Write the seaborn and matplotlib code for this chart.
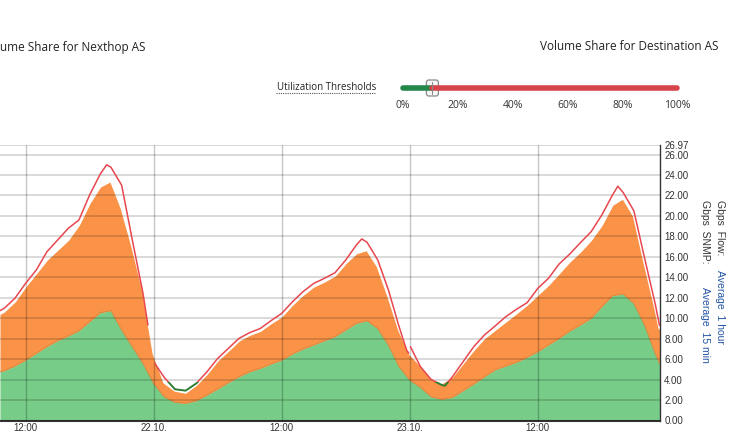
import numpy as np
import pandas as pd
import matplotlib
matplotlib.use("Agg")
import matplotlib.pyplot as plt
from matplotlib.patches import Rectangle, FancyBboxPatch
from matplotlib.lines import Line2D
from matplotlib.transforms import IdentityTransform
import seaborn as sns

# hours counted from 21.10. 00:00
area_hours = [9.6] + list(range(10, 72)) + [71.4]

# Flow, 1 hour average: lower (green) share and stacked total (orange top)
flow_green = [4.77, 4.87, 5.33, 5.91, 6.57, 7.22, 7.80, 8.26, 8.78, 9.66,
              10.54, 10.74, 8.85, 7.22, 5.59, 3.63, 2.30, 1.78, 1.68, 1.94,
              2.49, 3.08, 3.70, 4.28, 4.77, 5.10, 5.52, 5.91, 6.50, 6.99,
              7.38, 7.80, 8.20, 8.85, 9.50, 9.76, 9.00, 7.38, 5.26, 3.96,
              3.24, 2.33, 2.07, 2.26, 2.92, 3.57, 4.28, 4.95, 5.33, 5.69,
              6.18, 6.73, 7.38, 8.03, 8.75, 9.34, 9.99, 11.13, 12.20, 12.37,
              11.46, 9.34, 6.57, 5.60]
flow_total = [10.42, 10.64, 11.62, 13.08, 14.38, 15.69, 16.67, 17.64, 19.10, 21.23,
              22.86, 23.41, 20.74, 17.00, 12.76, 6.50, 3.70, 2.92, 2.72, 3.47,
              4.55, 5.85, 6.80, 7.80, 8.36, 8.75, 9.50, 10.15, 11.30, 12.27,
              13.08, 13.57, 14.15, 15.36, 16.34, 16.67, 15.04, 12.10, 8.85, 6.50,
              5.42, 4.12, 3.63, 4.28, 5.59, 6.89, 8.03, 8.85, 9.66, 10.47,
              11.30, 12.27, 13.24, 14.38, 15.53, 16.50, 17.64, 19.10, 21.07, 21.72,
              20.00, 15.40, 11.00, 9.00]

# SNMP, 15 min average (NaN = missing sample)
snmp_hours = [9.6, 10, 11, 12, 13, 14, 15, 16, 17, 18, 19, 19.6, 20, 21, 22, 23,
              23.46, 23.8, 24.09, 25, 26, 27, 28, 29, 30, 31, 32, 33, 34, 35, 36,
              37, 38, 39, 40, 41, 42, 43, 43.5, 44, 45, 46, 47, 47.7, 47.9, 48.0,
              48.06, 49, 50, 51, 51.3, 52, 53, 54, 55, 56, 57, 58, 59, 60, 61, 62,
              63, 64, 65, 66, 67, 67.5, 68, 69, 70, 71, 71.4]
snmp_gbps = [10.74, 10.97, 11.95, 13.41, 14.71, 16.50, 17.64, 18.79, 19.60, 22.05,
             24.10, 25.00, 24.75, 23.00, 17.64, 12.43, 9.34, np.nan, 5.59, 4.20,
             3.05, 2.92, 3.63, 4.77, 6.07, 7.05, 8.03, 8.59, 9.00, 9.76, 10.47,
             11.60, 12.60, 13.40, 13.90, 14.45, 15.69, 17.16, 17.75, 17.42, 15.69,
             12.76, 9.17, 6.89, 6.57, np.nan, 7.22, 5.26, 4.02, 3.47, 3.40, 4.28,
             5.75, 7.22, 8.36, 9.24, 10.15, 10.87, 11.52, 12.92, 13.90, 15.30,
             16.28, 17.39, 18.46, 20.09, 22.05, 22.90, 22.28, 20.50, 15.90, 11.40,
             9.30]

threshold = 3.75
xtick_hours = [12, 24, 36, 48, 60]
xtick_labels = ["12:00", "22.10.", "12:00", "23.10.", "12:00"]
ytick_vals = [0, 2, 4, 6, 8, 10, 12, 14, 16, 18, 20, 22, 24, 26, 26.97]
slider_ticks = [0, 20, 40, 60, 80, 100]
slider_value = 10

GREEN = "#77cc88"
ORANGE = "#fa9347"
RED = "#e8474f"
DKGREEN = "#2e7d32"

sns.set_theme(style="white")
plt.rcParams["font.family"] = ["Liberation Sans", "DejaVu Sans"]

W, H = 731, 442
fig = plt.figure(figsize=(W / 100, H / 100), dpi=100)


def fx(px):
    return px / W


def fy(py):
    return 1 - py / H


ax = fig.add_axes([0, fy(420.5), fx(660), (420.5 - 144.6) / H])

# stacked flow areas
ax.fill_between(area_hours, 0, flow_green, color=GREEN, lw=0, zorder=1)
ax.fill_between(area_hours, flow_green, flow_total, color=ORANGE, lw=0, zorder=1)
ax.plot(area_hours, flow_green, color="#d98a3e", lw=0.8, zorder=1.5)
ax.plot(area_hours, flow_total, color="white", lw=1.5, zorder=1.5)

# snmp line, red above the threshold and dark green below
snmp = pd.DataFrame({"hour": snmp_hours, "gbps": snmp_gbps})
snmp["seg"] = snmp["gbps"].isna().cumsum()
snmp = snmp.dropna()

xmin, xmax = 9.6, 71.45
for col, lw, lo, hi in [(RED, 1.1, threshold, 100), (DKGREEN, 1.4, -1, threshold)]:
    n0 = len(ax.lines)
    sns.lineplot(data=snmp, x="hour", y="gbps", units="seg", estimator=None,
                 color=col, lw=lw, ax=ax, legend=False, sort=True)
    clip = Rectangle((xmin - 5, lo), xmax - xmin + 10, hi - lo, transform=ax.transData)
    for ln in ax.lines[n0:]:
        ln.set_clip_path(clip)
        ln.set_zorder(4)

ax.set_xlim(xmin, xmax)
ax.set_ylim(0, 26.97)
ax.set_xticks(xtick_hours)
ax.set_xticklabels(xtick_labels)
ax.set_yticks(ytick_vals)
ax.set_yticklabels([f"{v:.2f}" for v in ytick_vals])
ax.yaxis.tick_right()
ax.set_xlabel("")
ax.set_ylabel("")

ax.set_axisbelow(False)
ax.grid(axis="y", color="black", alpha=0.15, lw=1.4)
ax.grid(axis="x", color="black", alpha=0.22, lw=1.0)
ax.tick_params(axis="y", length=0, pad=3, labelsize=7, labelcolor="#333333")
ax.tick_params(axis="x", length=0, pad=1.5, labelsize=7, labelcolor="#333333")

for s in ["top", "left"]:
    ax.spines[s].set_visible(False)
ax.spines["right"].set_color("#333333")
ax.spines["right"].set_linewidth(1.0)
ax.spines["bottom"].set_color("#333333")
ax.spines["bottom"].set_linewidth(1.5)

# right hand axis titles (rotated)
tf = dict(rotation=270, ha="center", va="top", fontsize=7.5)
fig.text(fx(720), fy(200), "Gbps  Flow:", color="#333333", **tf)
fig.text(fx(720), fy(270), "Average  1 hour", color="#2255a4", **tf)
fig.text(fx(705), fy(200), "Gbps  SNMP:", color="#333333", **tf)
fig.text(fx(705), fy(287), "Average  15 min", color="#2255a4", **tf)

# header
hf = ["Open Sans", "DejaVu Sans"]
fig.text(fx(0), fy(47), "ume Share for Nexthop AS", ha="left", va="center",
         fontsize=8.5, color="#222222", family=hf)
fig.text(fx(718), fy(47), "Volume Share for Destination AS", ha="right", va="center",
         fontsize=8.5, color="#222222", family=hf)
fig.text(fx(376), fy(87), "Utilization Thresholds", ha="right", va="center",
         fontsize=7, color="#222222", family=hf)
fig.add_artist(Line2D([fx(276), fx(376)], [fy(93), fy(93)], color="#555555",
                      lw=0.8, ls=(0, (1, 1)), transform=fig.transFigure))

# slider
s0, s1 = 403, 677
handle = s0 + (s1 - s0) * slider_value / 100 + 2
fig.add_artist(Line2D([fx(s0), fx(handle)], [fy(88), fy(88)], color="#23884a", lw=4,
                      solid_capstyle="round", transform=fig.transFigure))
fig.add_artist(Line2D([fx(handle), fx(s1)], [fy(88), fy(88)], color="#d5434b", lw=4,
                      solid_capstyle="round", transform=fig.transFigure))
fig.add_artist(FancyBboxPatch((handle - 6, H - 96), 12, 16,
                              boxstyle="round,pad=0,rounding_size=2.5",
                              facecolor="#f7f7f7", edgecolor="#8a8a8a", lw=0.9,
                              transform=IdentityTransform()))
fig.add_artist(Line2D([fx(handle), fx(handle)], [fy(82), fy(94)], color="#8a8a8a",
                      lw=0.8, transform=fig.transFigure))
for t in slider_ticks:
    fig.text(fx(s0 + (s1 - s0) * t / 100), fy(106), f"{t}%", ha="center", va="center",
             fontsize=7.5, color="#333333", family=hf)

fig.savefig("out.png", dpi=100)
